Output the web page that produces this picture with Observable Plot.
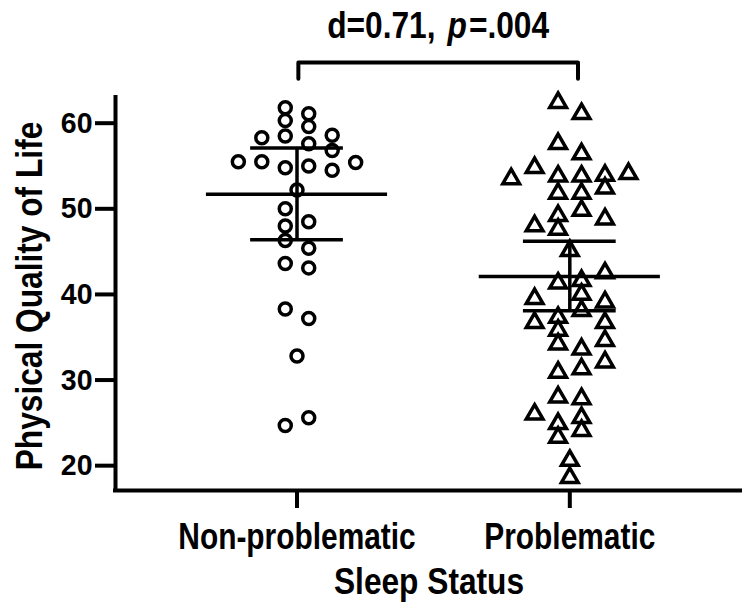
<!DOCTYPE html>
<html>
<head>
<meta charset="utf-8">
<script src="https://cdn.jsdelivr.net/npm/d3@7"></script>
<script src="https://cdn.jsdelivr.net/npm/@observablehq/plot@0.6"></script>
<style>
  html, body { margin: 0; padding: 0; background: #fff; }
  #chart svg { display: block; }
</style>
</head>
<body>
<div id="chart"></div>
<script>
// ---- Data ----
const categories = ["Non-problematic", "Problematic"];
const xTitle = "Sleep Status";
const yTitle = "Physical Quality of Life";
const yTicks = [20, 30, 40, 50, 60];
const annotationParts = ["d=0.71,", "p", "=.004"];

// Non-problematic sleepers (circles): value and swarm column
const nonProblematicValues = [61.8, 61.1, 60.3, 59.6, 58.5, 58.3, 58.6, 57.6, 56.8, 55.5, 55.5, 54.8, 55.0, 54.5, 55.4, 52.2, 50.0, 48.5, 48.0, 46.3, 45.4, 43.6, 43.1, 38.3, 37.2, 32.8, 24.7, 25.6];
const nonProblematicColumns = [-0.5, 0.5, -0.5, 0.5, -0.5, -1.5, 1.5, 0.5, 1.5, -2.5, -1.5, -0.5, 0.5, 1.5, 2.5, 0, -0.5, 0.5, -0.5, -0.5, 0.5, -0.5, 0.5, -0.5, 0.5, 0, -0.5, 0.5];

// Problematic sleepers (triangles): value and swarm column
const problematicValues = [62.4, 61.1, 57.6, 56.4, 54.8, 53.5, 53.8, 53.8, 53.9, 54.1, 51.8, 51.8, 52.4, 49.8, 49.2, 48.8, 48.0, 47.6, 45.1, 42.5, 41.3, 41.6, 40.0, 39.5, 39.1, 38.1, 36.7, 37.3, 36.7, 35.8, 34.2, 33.6, 34.6, 32.1, 31.3, 30.9, 28.0, 27.8, 26.0, 25.6, 24.9, 24.1, 23.3, 20.6, 18.6];
const problematicColumns = [-0.5, 0.5, -0.5, 0.5, -1.5, -2.5, -0.5, 0.5, 1.5, 2.5, -0.5, 0.5, 1.5, 0.5, -0.5, 1.5, -1.5, -0.5, 0, 1.5, -0.5, 0.5, 0.5, -1.5, 1.5, 0.5, -1.5, -0.5, 1.5, -0.5, -0.5, 0.5, 1.5, 1.5, 0.5, -0.5, -0.5, 0.5, -1.5, 0.5, -0.5, 0.5, -0.5, 0, 0];

// Summary lines (centre line and error bars) per group
const centerValues = [51.7, 42.1];
const upperValues = [57.1, 46.2];
const lowerValues = [46.4, 38.1];

// Significance bracket (data units)
const bracketEnds = [0.005, 1.03];
const bracketLevels = [65.2, 67.1];

// ---- Build tables ----
const columnStep = 0.086;
const centerHalf = 0.332;
const barHalf = 0.17;
const nonPts = nonProblematicValues.map((v, i) => ({g: 0, value: v, col: nonProblematicColumns[i]}));
const probPts = problematicValues.map((v, i) => ({g: 1, value: v, col: problematicColumns[i]}));
const summary = categories.map((c, i) => ({g: i, center: centerValues[i], upper: upperValues[i], lower: lowerValues[i]}));
const bracket = [
  {x: bracketEnds[0], y: bracketLevels[0]},
  {x: bracketEnds[0], y: bracketLevels[1]},
  {x: bracketEnds[1], y: bracketLevels[1]},
  {x: bracketEnds[1], y: bracketLevels[0]}
];

const FONT = "'Liberation Sans', Arial, Helvetica, sans-serif";
const LW = 3.5;
const xDomain = [-0.6653, 1.633];
const yDomain = [17.1, 63];
const annotationText = annotationParts[0] + " " + annotationParts[1] + annotationParts[2];

const chart = Plot.plot({
  width: 742,
  height: 603,
  marginLeft: 115,
  marginRight: 0,
  marginTop: 97,
  marginBottom: 113,
  style: {fontFamily: FONT, fontWeight: "bold", color: "black", background: "white"},
  x: {type: "linear", domain: xDomain},
  y: {type: "linear", domain: yDomain},
  marks: [
    // axis lines
    Plot.ruleX([xDomain[0]], {stroke: "black", strokeWidth: 4, strokeLinecap: "square"}),
    Plot.ruleY([yDomain[0]], {stroke: "black", strokeWidth: 4, strokeLinecap: "square"}),
    Plot.axisY({ticks: yTicks, tickSize: 20, tickPadding: 3, strokeWidth: 4, fontSize: 30, fontWeight: "bold", fontFamily: FONT, label: null}),
    Plot.axisX({ticks: [0, 1], tickFormat: i => categories[i], tickSize: 18, tickPadding: 15, strokeWidth: 4, fontSize: 36, fontWeight: "bold", fontFamily: FONT, label: null}),
    Plot.text([yTitle], {frameAnchor: "left", textAnchor: "middle", rotate: -90, dx: -85, dy: 2, fontSize: 36, fontWeight: "bold", fontFamily: FONT, lineAnchor: "middle"}),
    Plot.text([xTitle], {frameAnchor: "bottom", dy: 103, fontSize: 36, fontWeight: "bold", fontFamily: FONT, lineAnchor: "bottom"}),
    // points
    Plot.dot(nonPts, {x: d => d.g + d.col * columnStep, y: "value", symbol: "circle", r: 6, stroke: "black", strokeWidth: LW, fill: "none"}),
    Plot.dot(probPts, {x: d => d.g + d.col * columnStep, y: "value", symbol: "triangle", r: 6.2, stroke: "black", strokeWidth: LW, fill: "none"}),
    // summary lines
    Plot.ruleY(summary, {y: "center", x1: d => d.g - centerHalf, x2: d => d.g + centerHalf, stroke: "black", strokeWidth: LW}),
    Plot.ruleY(summary, {y: "upper", x1: d => d.g - barHalf, x2: d => d.g + barHalf, stroke: "black", strokeWidth: LW}),
    Plot.ruleY(summary, {y: "lower", x1: d => d.g - barHalf, x2: d => d.g + barHalf, stroke: "black", strokeWidth: LW}),
    Plot.ruleX(summary, {x: "g", y1: "lower", y2: "upper", stroke: "black", strokeWidth: LW}),
    // bracket + annotation
    Plot.line(bracket, {x: "x", y: "y", stroke: "black", strokeWidth: 4, strokeLinecap: "round"}),
    Plot.text([annotationText], {x: (bracketEnds[0] + bracketEnds[1]) / 2, y: 70, lineAnchor: "bottom", fontSize: 36, fontWeight: "bold", fontFamily: FONT})
  ]
});

document.getElementById("chart").appendChild(chart);

// italic "p" in the annotation, and narrow (condensed-looking) glyphs
d3.select(chart).selectAll("text").each(function () {
  const el = d3.select(this);
  const content = this.textContent;
  if (content === annotationText) {
    el.text(null);
    annotationParts.forEach((part, i) => {
      const ts = el.append("tspan").text(part);
      if (i === 1) ts.attr("font-style", "italic").attr("dx", 12);
      if (i === 2) ts.attr("dx", 2);
      const len = ts.node().getComputedTextLength();
      if (len > 0) ts.attr("textLength", (len * 0.88).toFixed(1)).attr("lengthAdjust", "spacingAndGlyphs");
    });
    return;
  }
  let squeeze = 0.85;
  if (/^\d+$/.test(content)) squeeze = 0.95;
  else if (categories.includes(content)) squeeze = 0.83;
  else if (content === xTitle || content === yTitle) squeeze = 0.88;
  const len = this.getComputedTextLength();
  if (len > 0) el.attr("textLength", (len * squeeze).toFixed(1)).attr("lengthAdjust", "spacingAndGlyphs");
});
</script>
</body>
</html>
